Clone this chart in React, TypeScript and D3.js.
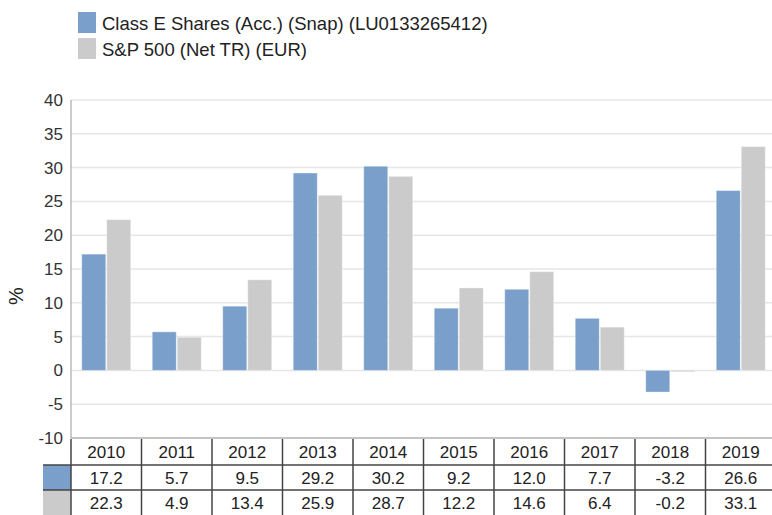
import React from "react";
import * as d3 from "d3";

const years = ["2010","2011","2012","2013","2014","2015","2016","2017","2018","2019"];
const classE = [17.2, 5.7, 9.5, 29.2, 30.2, 9.2, 12.0, 7.7, -3.2, 26.6];
const sp500 = [22.3, 4.9, 13.4, 25.9, 28.7, 12.2, 14.6, 6.4, -0.2, 33.1];
const yTicks = [40, 35, 30, 25, 20, 15, 10, 5, 0, -5, -10];
const seriesNames = ["Class E Shares (Acc.) (Snap) (LU0133265412)", "S&P 500 (Net TR) (EUR)"];
const colors = ["#7a9fcb", "#cbcbcb"];

export default function App() {
  const W = 772, H = 515;
  const left = 71, right = 776, top = 100, bottom = 438;
  const font = "'Liberation Sans', Arial, sans-serif";
  const x = d3.scaleBand<string>().domain(years).range([left, right]);
  const y = d3.scaleLinear().domain([-10, 40]).range([bottom, top]);
  const barW = 24;
  const series = [classE, sp500];
  return (
    <svg width={W} height={H} style={{ position: "absolute", left: 0, top: 0, fontFamily: font }}>
      <rect width={W} height={H} fill="#fff" />
      {seriesNames.map((n, i) => (
        <g key={n}>
          <rect x={78} y={12 + i * 26} width={18} height={21} fill={colors[i]} />
          <text x={102} y={30 + i * 26} fontSize={18.5} fill="#222">{n}</text>
        </g>
      ))}
      {yTicks.map((t) => (
        <g key={t}>
          <line x1={left} x2={W} y1={y(t)} y2={y(t)} stroke={t === -10 ? "#c4c4c4" : "#e6e6e6"} strokeWidth={t === -10 ? 2 : 1.5} />
          <text x={63} y={y(t) + 6} textAnchor="end" fontSize={17} fill="#333">{t}</text>
        </g>
      ))}
      <line x1={left} x2={left} y1={top} y2={bottom} stroke="#999" strokeWidth={1} />
      <text transform={`translate(23,296) rotate(-90)`} textAnchor="middle" fontSize={20} fill="#222">%</text>
      {years.map((yr, i) => {
        const cx = (x(yr) as number) + x.bandwidth() / 2;
        return series.map((s, j) => {
          const v = s[i];
          const bx = j === 0 ? cx - barW - 0.5 : cx + 0.5;
          return (
            <rect key={yr + j} x={bx} y={y(Math.max(0, v))} width={barW}
              height={Math.abs(y(v) - y(0))} fill={colors[j]} stroke="#ffffff" strokeOpacity={0.35} strokeWidth={1} />
          );
        });
      })}
      <rect x={43} y={465} width={28} height={25} fill={colors[0]} />
      <rect x={43} y={490} width={28} height={25} fill={colors[1]} />
      {[465, 490].map((ry) => (
        <line key={ry} x1={43} x2={W} y1={ry} y2={ry} stroke="#444" strokeWidth={1.5} />
      ))}
      {years.map((yr) => (
        <line key={"v" + yr} x1={x(yr) as number} x2={x(yr) as number} y1={439} y2={515} stroke="#444" strokeWidth={1.5} />
      ))}
      {years.map((yr, i) => {
        const cx = (x(yr) as number) + x.bandwidth() / 2;
        return (
          <g key={"t" + yr}>
            <text x={cx} y={458} textAnchor="middle" fontSize={17} fill="#222">{yr}</text>
            <text x={cx} y={484} textAnchor="middle" fontSize={17} fill="#222">{classE[i].toFixed(1)}</text>
            <text x={cx} y={509} textAnchor="middle" fontSize={17} fill="#222">{sp500[i].toFixed(1)}</text>
          </g>
        );
      })}
    </svg>
  );
}
